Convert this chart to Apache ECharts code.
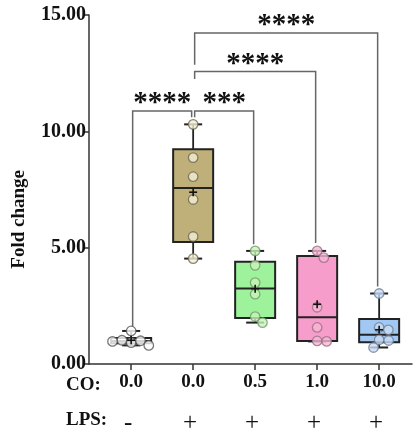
<!DOCTYPE html>
<html>
<head>
<meta charset="utf-8">
<script src="https://cdn.jsdelivr.net/npm/echarts@6/dist/echarts.min.js"></script>
<style>
  html, body { margin: 0; padding: 0; background: #fff; }
  #chart { width: 416px; height: 436px; }
</style>
</head>
<body>
<div id="chart"></div>
<script>
// Fold change per treatment group (six replicates each)
const coLabels = ['0.0', '0.0', '0.5', '1.0', '10.0'];
const lpsLabels = ['-', '+', '+', '+', '+'];
const yTicks = [0, 5, 10, 15];

const ctrl   = [1.42, 0.92, 1.00, 1.02, 0.97, 0.80];
const co0    = [10.30, 8.87, 8.05, 7.07, 5.48, 4.53];
const co05   = [4.86, 4.24, 3.50, 3.00, 2.04, 1.78];
const co1    = [4.86, 4.57, 2.44, 1.57, 0.99, 0.97];
const co10   = [3.03, 1.57, 1.47, 1.04, 1.01, 0.71];
const groups = [ctrl, co0, co05, co1, co10];

// significance brackets: [left group, right group, bar height, left leg end, right leg end, stars]
const bracketA = [1, 2, 10.87, 1.60, 10.60, '****'];
const bracketB = [2, 3, 10.87, 10.60, 5.15, '***'];
const bracketC = [2, 4, 12.57, 12.25, 5.20, '****'];
const bracketD = [2, 5, 14.23, 12.86, 3.33, '****'];
const brackets = [bracketA, bracketB, bracketC, bracketD];

const boxFill   = ['#ffffff', '#bfb079', '#9ef29b', '#f79dcb', '#a0c8f3'];
const dotFill   = ['#ffffff', '#f3efd4', '#c8f2b9', '#f5b7d5', '#c9dcf5'];
const dotStroke = ['#555555', '#6f6858', '#6f9a6a', '#9a6f82', '#6f7d92'];

const serif = '"Liberation Serif", "Times New Roman", serif';

function quantile(sorted, p) {
  const n = sorted.length;
  const pos = p * (n + 1);
  if (pos <= 1) return sorted[0];
  if (pos >= n) return sorted[n - 1];
  const lo = Math.floor(pos);
  const frac = pos - lo;
  return sorted[lo - 1] + frac * (sorted[lo] - sorted[lo - 1]);
}

const boxData = groups.map((g, i) => {
  const s = g.slice().sort((a, b) => a - b);
  return [i + 1, s[0], quantile(s, 0.25), quantile(s, 0.5), quantile(s, 0.75), s[s.length - 1]];
});
const meanData = groups.map((g, i) => [i + 1, g.reduce((a, b) => a + b, 0) / g.length]);

const chart = echarts.init(document.getElementById('chart'), null, { renderer: 'canvas' });

const axisColor = '#333';

const option = {
  animation: false,
  backgroundColor: '#fff',
  grid: { left: 89, right: 4, top: 15, bottom: 70 },
  xAxis: [{
    type: 'value', min: 0.32, max: 5.53,
    axisLine: { onZero: true, lineStyle: { color: axisColor, width: 1.5 } },
    axisTick: { show: true, customValues: [1, 2, 3, 4, 5], length: 6, lineStyle: { color: axisColor, width: 1.5 } },
    axisLabel: {
      customValues: [1, 2, 3, 4, 5], margin: 9,
      formatter: v => coLabels[Math.round(v) - 1],
      fontFamily: serif, fontWeight: 'bold', fontSize: 19, color: '#111'
    },
    splitLine: { show: false }
  }, {
    type: 'value', min: 0.32, max: 5.53, position: 'bottom', offset: 39,
    axisLine: { show: false }, axisTick: { show: false },
    axisLabel: {
      customValues: [1, 2, 3, 4, 5], margin: 8,
      formatter: v => lpsLabels[Math.round(v) - 1],
      fontFamily: serif, fontSize: 25, color: '#111', padding: [0, 6, 0, 0]
    },
    splitLine: { show: false }
  }],
  yAxis: {
    type: 'value', min: 0, max: 15, interval: 5,
    axisLine: { show: true, lineStyle: { color: axisColor, width: 1.5 } },
    axisTick: { show: true, length: 6, lineStyle: { color: axisColor, width: 1.5 } },
    axisLabel: {
      margin: 3, formatter: v => v.toFixed(2),
      fontFamily: serif, fontWeight: 'bold', fontSize: 20, color: '#111'
    },
    splitLine: { show: false }
  },
  graphic: [
    { type: 'text', left: 10, top: 170, rotation: Math.PI / 2, style: {
        text: 'Fold change', font: 'bold 19px ' + serif, fill: '#111',
        textAlign: 'center', textVerticalAlign: 'middle' } },
    { type: 'text', left: 66, top: 376, style: { text: 'CO:', font: 'bold 19px ' + serif, fill: '#111' } },
    { type: 'text', left: 66, top: 411, style: { text: 'LPS:', font: 'bold 19px ' + serif, fill: '#111' } }
  ],
  series: [
    {
      // significance brackets with star labels
      type: 'custom', id: 'brackets', z: 1,
      data: brackets.map(b => b.slice(0, 5)),
      renderItem: (params, api) => {
        const b = brackets[params.dataIndex];
        const top1 = api.coord([b[0], b[2]]);
        const top2 = api.coord([b[1], b[2]]);
        const end1 = api.coord([b[0], b[3]]);
        const end2 = api.coord([b[1], b[4]]);
        const x1 = top1[0] + 1.5, x2 = top2[0] - 1.5;
        return {
          type: 'group',
          children: [{
            type: 'polyline',
            shape: { points: [[x1, end1[1]], [x1, top1[1]], [x2, top2[1]], [x2, end2[1]]] },
            style: { stroke: '#666', lineWidth: 1.5, fill: null }
          }, {
            type: 'text',
            style: {
              x: (x1 + x2) / 2, y: top1[1] + 7,
              text: b[5], font: 'bold 29px ' + serif, fill: '#111',
              textAlign: 'center', textVerticalAlign: 'bottom'
            }
          }]
        };
      }
    },
    {
      // box, whiskers and median
      type: 'custom', id: 'boxes', z: 2,
      data: boxData,
      encode: { x: 0, y: [1, 2, 3, 4, 5] },
      renderItem: (params, api) => {
        const i = params.dataIndex;
        const x = api.value(0);
        const pMin = api.coord([x, api.value(1)]);
        const pQ1 = api.coord([x, api.value(2)]);
        const pMed = api.coord([x, api.value(3)]);
        const pQ3 = api.coord([x, api.value(4)]);
        const pMax = api.coord([x, api.value(5)]);
        const cx = pMin[0];
        const hw = 20, cw = 9;
        const line = (xa, ya, xb, yb, w) => ({
          type: 'line', shape: { x1: xa, y1: ya, x2: xb, y2: yb },
          style: { stroke: '#222', lineWidth: w || 2 }
        });
        return {
          type: 'group',
          children: [
            line(cx, pMax[1], cx, pQ3[1], 1.8),
            line(cx, pQ1[1], cx, pMin[1], 1.8),
            line(cx - cw, pMax[1], cx + cw, pMax[1], 2),
            line(cx - cw, pMin[1], cx + cw, pMin[1], 2),
            {
              type: 'rect',
              shape: { x: cx - hw, y: pQ3[1], width: hw * 2, height: pQ1[1] - pQ3[1] },
              style: { fill: boxFill[i], stroke: '#222', lineWidth: 2 }
            },
            line(cx - hw, pMed[1], cx + hw, pMed[1], 2)
          ]
        };
      }
    },
    {
      // individual replicates
      type: 'scatter', id: 'pts', z: 3,
      symbol: 'circle', symbolSize: 9.5,
      data: []
    },
    {
      // group means
      type: 'custom', id: 'means', z: 4,
      data: meanData,
      renderItem: (params, api) => {
        const p = api.coord([api.value(0), api.value(1)]);
        const s = 4;
        return {
          type: 'group',
          children: [
            { type: 'line', shape: { x1: p[0] - s, y1: p[1], x2: p[0] + s, y2: p[1] }, style: { stroke: '#111', lineWidth: 1.6 } },
            { type: 'line', shape: { x1: p[0], y1: p[1] - s, x2: p[0], y2: p[1] + s }, style: { stroke: '#111', lineWidth: 1.6 } }
          ]
        };
      }
    }
  ]
};

chart.setOption(option);

// Beeswarm placement of replicate dots so that neighbours do not overlap
const o = chart.convertToPixel({ gridIndex: 0 }, [1, 0]);
const u = chart.convertToPixel({ gridIndex: 0 }, [2, 1]);
const pxPerX = u[0] - o[0];
const pxPerY = o[1] - u[1];
const diam = 9.5;

const pts = [];
groups.forEach((g, gi) => {
  const placed = [];
  g.forEach(v => {
    const y = v * pxPerY;
    const cands = [0];
    placed.forEach(p => {
      const dy = Math.abs(p.y - y);
      if (dy < diam) {
        const dx = Math.sqrt(diam * diam - dy * dy) + 0.01;
        cands.push(p.x + dx, p.x - dx);
      }
    });
    cands.sort((a, b) => Math.abs(a) - Math.abs(b));
    let x = cands.find(c => placed.every(p => Math.hypot(p.x - c, p.y - y) >= diam - 0.02));
    if (x === undefined) x = 0;
    placed.push({ x, y });
    pts.push({
      value: [gi + 1 + x / pxPerX, v],
      itemStyle: { color: dotFill[gi], borderColor: dotStroke[gi], borderWidth: 1.3 }
    });
  });
});

chart.setOption({ series: [{ id: 'pts', data: pts }] });
</script>
</body>
</html>
